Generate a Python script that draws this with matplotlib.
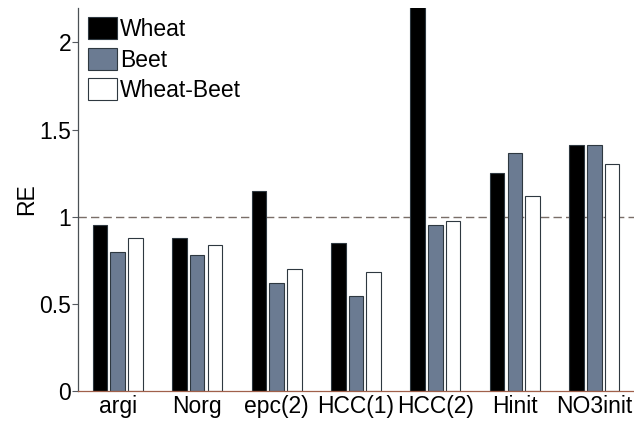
import numpy as np
import matplotlib.pyplot as plt

plt.rcParams['font.family'] = ['Liberation Sans', 'DejaVu Sans']

params = ["argi", "Norg", "epc(2)", "HCC(1)", "HCC(2)", "Hinit", "NO3init"]
wheat = [0.95, 0.88, 1.15, 0.85, 2.5, 1.25, 1.41]
beet = [0.80, 0.78, 0.62, 0.545, 0.95, 1.365, 1.41]
wheat_beet = [0.875, 0.84, 0.70, 0.685, 0.975, 1.12, 1.30]
yticks = [0, 0.5, 1, 1.5, 2]
ytick_labels = ["0", "0.5", "1", "1.5", "2"]

fig = plt.figure(figsize=(6.34, 4.21), dpi=100)
ax = fig.add_axes([78/634, 1 - 391/421, 1 - 78/634, (391 - 7.5)/421])

x = np.arange(1, len(params) + 1)
w = 0.183
off = 0.223
edge = '#2e3840'
ax.bar(x - off, wheat, w, color='black', edgecolor=edge, linewidth=0.8, label='Wheat')
ax.bar(x, beet, w, color='#6b7b92', edgecolor=edge, linewidth=0.8, label='Beet')
ax.bar(x + off, wheat_beet, w, color='white', edgecolor=edge, linewidth=0.8, label='Wheat-Beet')

ax.axhline(1, color='#7a6e68', linestyle=(0, (6, 3)), linewidth=1.0, zorder=0)

ax.set_xlim(0.5, 7.5)
ax.set_ylim(0, 2.2)
ax.set_xticks(x)
ax.set_xticklabels(params, fontsize=16.5)
ax.set_yticks(yticks)
ax.set_yticklabels(ytick_labels, fontsize=16.5)
ax.tick_params(axis='x', length=0, pad=3)
ax.tick_params(axis='y', length=4, width=0.8, color='#555a60', pad=1)
ax.set_ylabel("RE", fontsize=16.5, labelpad=1)

for s in ['top', 'right']:
    ax.spines[s].set_visible(False)
ax.spines['left'].set_color('#4a5055')
ax.spines['bottom'].set_color('#a0604a')
for s in ['left', 'bottom']:
    ax.spines[s].set_linewidth(0.9)

ax.legend(loc='upper left', bbox_to_anchor=(0.018, 0.975), frameon=False,
          fontsize=16.5, handlelength=1.25, handleheight=1.1, labelspacing=0.3,
          handletextpad=0.15, borderpad=0, borderaxespad=0)

fig.savefig("out.png", dpi=100)
